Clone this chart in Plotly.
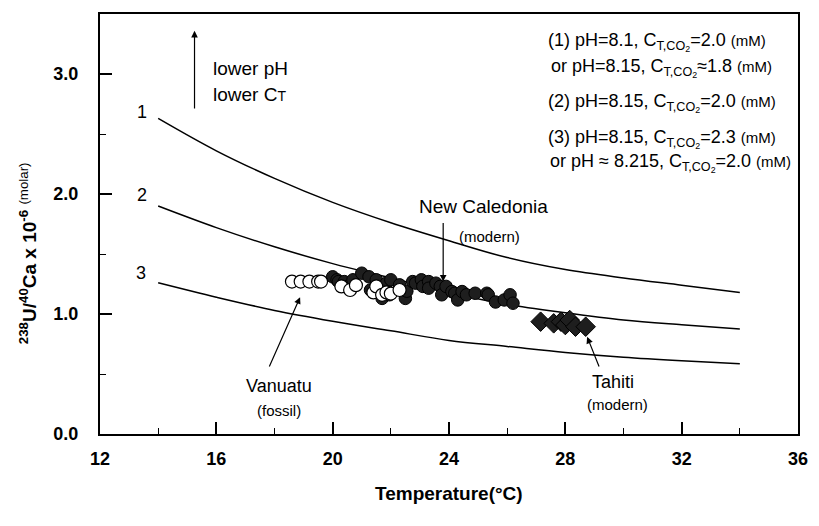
import plotly.graph_objects as go

# Model curves: 238U/40Ca (x 1e-6, molar) versus temperature
curve_temp = [14, 16, 18, 20, 22, 24, 26, 28, 30, 32, 34]
curve1 = [2.63, 2.36, 2.13, 1.93, 1.76, 1.61, 1.47, 1.37, 1.30, 1.24, 1.18]
curve2 = [1.90, 1.72, 1.56, 1.42, 1.30, 1.18, 1.08, 1.01, 0.95, 0.91, 0.875]
curve3 = [1.26, 1.14, 1.03, 0.94, 0.86, 0.78, 0.73, 0.68, 0.64, 0.61, 0.585]

# New Caledonia (modern) corals
nc_temp = [20.0, 20.15, 20.2, 20.4, 20.5, 20.7, 21.0, 21.25, 21.3, 21.5, 21.7, 21.85,
           21.95, 22.0, 22.3, 22.5, 22.55, 22.75, 22.85, 23.05, 23.1, 23.3, 23.3, 23.55,
           23.7, 23.75, 23.9, 24.1, 24.2, 24.3, 24.45, 24.6, 24.9, 25.3, 25.35, 25.6,
           25.9, 26.1, 26.2]
nc_ratio = [1.31, 1.285, 1.27, 1.27, 1.23, 1.285, 1.34, 1.31, 1.20, 1.285, 1.13, 1.257,
            1.16, 1.285, 1.243, 1.13, 1.19, 1.27, 1.257, 1.285, 1.23, 1.27, 1.215, 1.257,
            1.23, 1.16, 1.23, 1.187, 1.173, 1.117, 1.187, 1.16, 1.173, 1.173, 1.16, 1.10,
            1.117, 1.16, 1.09]

# Vanuatu (fossil) corals
va_temp = [18.6, 18.9, 19.2, 19.5, 19.6, 20.3, 20.6, 20.8, 21.4, 21.5, 21.7, 21.85, 22.0, 22.3]
va_ratio = [1.27, 1.27, 1.27, 1.27, 1.27, 1.23, 1.20, 1.24, 1.18, 1.23, 1.16, 1.18, 1.17, 1.20]

# Tahiti (modern) corals
ta_temp = [27.15, 27.6, 27.85, 28.0, 28.15, 28.35, 28.7]
ta_ratio = [0.936, 0.922, 0.936, 0.908, 0.95, 0.894, 0.894]

FONT = "Arial, Liberation Sans, Helvetica, sans-serif"

fig = go.Figure()

for ys in (curve1, curve2, curve3):
    fig.add_trace(go.Scatter(x=curve_temp, y=ys, mode="lines", line_shape="spline",
                             line=dict(color="black", width=1.5), showlegend=False,
                             hoverinfo="skip"))

fig.add_trace(go.Scatter(x=nc_temp, y=nc_ratio, mode="markers", showlegend=False,
                         marker=dict(symbol="circle", size=12.5, color="#1e1e1e",
                                     line=dict(color="black", width=1))))
fig.add_trace(go.Scatter(x=va_temp, y=va_ratio, mode="markers", showlegend=False,
                         marker=dict(symbol="circle", size=13, color="white",
                                     line=dict(color="black", width=1.2))))
fig.add_trace(go.Scatter(x=ta_temp, y=ta_ratio, mode="markers", showlegend=False,
                         marker=dict(symbol="diamond", size=15, color="#1e1e1e",
                                     line=dict(color="black", width=1))))

ann = []

def text(x, y, s, size=18, xanchor="center", xref="x", yref="y", **kw):
    ann.append(dict(x=x, y=y, xref=xref, yref=yref, text=s, showarrow=False,
                    xanchor=xanchor, yanchor="middle",
                    font=dict(family=FONT, size=size, color="black"), **kw))

def arrow(x0, y0, x1, y1):
    ann.append(dict(x=x1, y=y1, ax=x0, ay=y0, xref="x", yref="y", axref="x", ayref="y",
                    text="", showarrow=True, arrowhead=2, arrowsize=1.1,
                    arrowwidth=1.2, arrowcolor="black"))

# curve numbers
text(13.46, 2.68, "1", 18)
text(13.46, 1.99, "2", 18)
text(13.40, 1.34, "3", 18)

# direction hint
arrow(15.25, 2.70, 15.25, 3.36)
text(15.83, 3.05, "lower pH", 19, xanchor="left")
text(15.83, 2.83, "lower C<span style='font-size:14px'>T</span>", 19, xanchor="left")

# curve conditions
sub = "C<sub>T,CO<sub>2</sub></sub>"
mm = "<span style='font-size:15px'>(mM)</span>"
text(27.32, 3.27, "(1) pH=8.1, " + sub + "=2.0 " + mm, 18, xanchor="left")
text(27.45, 3.05, "or pH=8.15, " + sub + "\u22481.8 " + mm, 18, xanchor="left")
text(27.32, 2.76, "(2) pH=8.15, " + sub + "=2.0 " + mm, 18, xanchor="left")
text(27.32, 2.46, "(3) pH=8.15, " + sub + "=2.3 " + mm, 18, xanchor="left")
text(27.40, 2.26, "or pH \u2248 8.215, " + sub + "=2.0 " + mm, 18, xanchor="left")

# site labels
text(25.2, 1.90, "New Caledonia", 19)
text(25.4, 1.65, "(modern)", 15)
arrow(23.80, 1.77, 23.80, 1.27)

text(18.17, 0.40, "Vanuatu", 18)
text(18.17, 0.20, "(fossil)", 15)
arrow(17.8, 0.55, 18.88, 1.14)

text(29.65, 0.43, "Tahiti", 18)
text(29.80, 0.25, "(modern)", 15)
arrow(29.18, 0.55, 28.75, 0.81)

# axis titles
text(0.5, -0.142, "<b>Temperature(\u00b0C)</b>", 19, xref="paper", yref="paper")
text(-0.102, 0.43,
     "<b><sup>238</sup>U/<sup>40</sup>Ca x 10<sup>-6</sup></b> <sup>(molar)</sup>",
     19, xref="paper", yref="paper", textangle=-90)

fig.update_layout(
    width=819, height=526,
    margin=dict(l=100, r=11, t=14, b=92),
    paper_bgcolor="white", plot_bgcolor="white",
    font=dict(family=FONT, color="black"),
    annotations=ann,
    showlegend=False,
)

fig.update_xaxes(range=[12, 36], tick0=12, dtick=4, showgrid=False, zeroline=False,
                 showline=True, mirror=True, linecolor="black", linewidth=1.5,
                 ticks="inside", ticklen=12, tickwidth=1.5, tickcolor="black",
                 ticklabelstandoff=8,
                 tickfont=dict(family=FONT, size=18, weight="bold", color="black"),
                 minor=dict(tick0=12, dtick=2, ticks="inside", ticklen=6, tickwidth=1,
                            tickcolor="black", showgrid=False))
fig.update_yaxes(range=[0, 3.5], tick0=0, dtick=1, tickformat=".1f", showgrid=False,
                 zeroline=False, showline=True, mirror=True, linecolor="black",
                 linewidth=2, ticks="inside", ticklen=12, tickwidth=1.5, tickcolor="black",
                 ticklabelstandoff=16,
                 tickfont=dict(family=FONT, size=18, weight="bold", color="black"),
                 minor=dict(tick0=0, dtick=0.5, ticks="inside", ticklen=6, tickwidth=1,
                            tickcolor="black", showgrid=False))

fig.write_html("out.html")
